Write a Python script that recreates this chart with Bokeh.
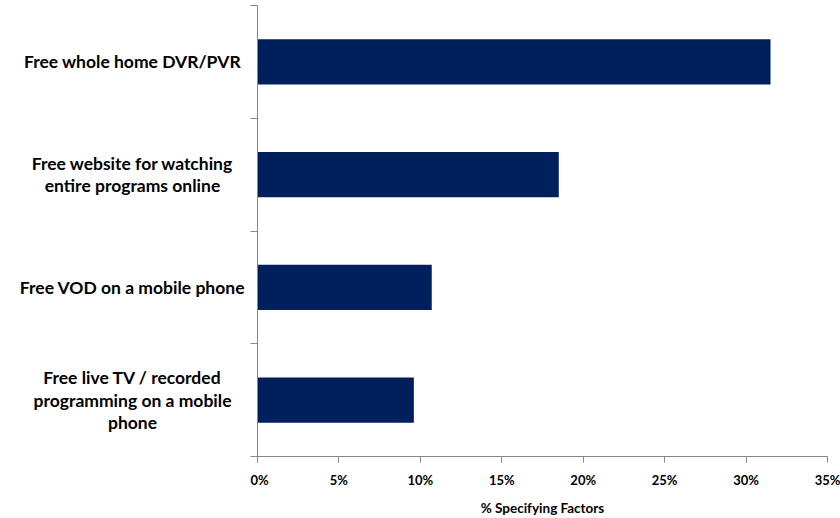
from bokeh.plotting import figure
from bokeh.models import Range1d, FixedTicker, PrintfTickFormatter, ColumnDataSource
from bokeh.layouts import row
from bokeh.core.properties import value
from bokeh.embed import file_html
from bokeh.resources import INLINE

categories = [
    "Free whole home DVR/PVR",
    "Free website for watching\nentire programs online",
    "Free VOD on a mobile phone",
    "Free live TV / recorded\nprogramming on a mobile\nphone",
]
values = [31.5, 18.5, 10.7, 9.6]
x_ticks = [0, 5, 10, 15, 20, 25, 30, 35]
x_title = "% Specifying Factors"

n = len(categories)
ypos = [i + 0.5 for i in range(n)]

FONT = "Lato"
AXIS_COLOR = "#868686"

yr = Range1d(n, 0)

# label panel on the left
lab = figure(width=250, height=518, output_backend="svg", toolbar_location=None,
             x_range=Range1d(0, 250), y_range=yr,
             min_border_left=0, min_border_right=0, min_border_top=5, min_border_bottom=62)
lab.axis.visible = False
lab.grid.visible = False
lab.outline_line_color = None
lab.text(x=[132] * n, y=ypos, text=categories,
         text_align="center", text_baseline="middle",
         text_font=value(FONT), text_font_style="bold", text_font_size="17.5px",
         text_color="#000000", text_line_height=1.07)

p = figure(width=590, height=518, output_backend="svg", toolbar_location=None,
           x_range=Range1d(0, 35), y_range=yr,
           min_border_left=7, min_border_right=13, min_border_top=5, min_border_bottom=62)

p.hbar(y=ypos, right=values, left=0, height=0.4, fill_color="#00205C", line_color=None)

p.xgrid.visible = False
p.ygrid.visible = False
p.outline_line_color = None
p.background_fill_color = "white"
p.border_fill_color = "white"

xa = p.xaxis[0]
xa.ticker = FixedTicker(ticks=x_ticks, minor_ticks=[])
xa.formatter = PrintfTickFormatter(format="%d%%")
xa.axis_line_color = AXIS_COLOR
xa.major_tick_line_color = AXIS_COLOR
xa.major_tick_out = 6
xa.major_tick_in = 0
xa.minor_tick_line_color = None
xa.major_label_text_font = FONT
xa.major_label_text_font_style = "bold"
xa.major_label_text_font_size = "13px"
xa.major_label_text_color = "#000000"
xa.major_label_standoff = 9
xa.axis_label = x_title
xa.axis_label_text_font = FONT
xa.axis_label_text_font_style = "bold"
xa.axis_label_text_font_size = "13.5px"
xa.axis_label_text_color = "#000000"
xa.axis_label_standoff = 9

ya = p.yaxis[0]
ya.ticker = FixedTicker(ticks=ypos, minor_ticks=list(range(n + 1)))
ya.axis_line_color = AXIS_COLOR
ya.major_tick_line_color = None
ya.minor_tick_line_color = AXIS_COLOR
ya.minor_tick_out = 7
ya.minor_tick_in = 0
ya.major_label_text_font_size = "0px"
ya.major_label_text_color = None
ya.major_label_standoff = 0

layout = row(lab, p, spacing=0)
open("out.html", "w").write(file_html(layout, INLINE))
